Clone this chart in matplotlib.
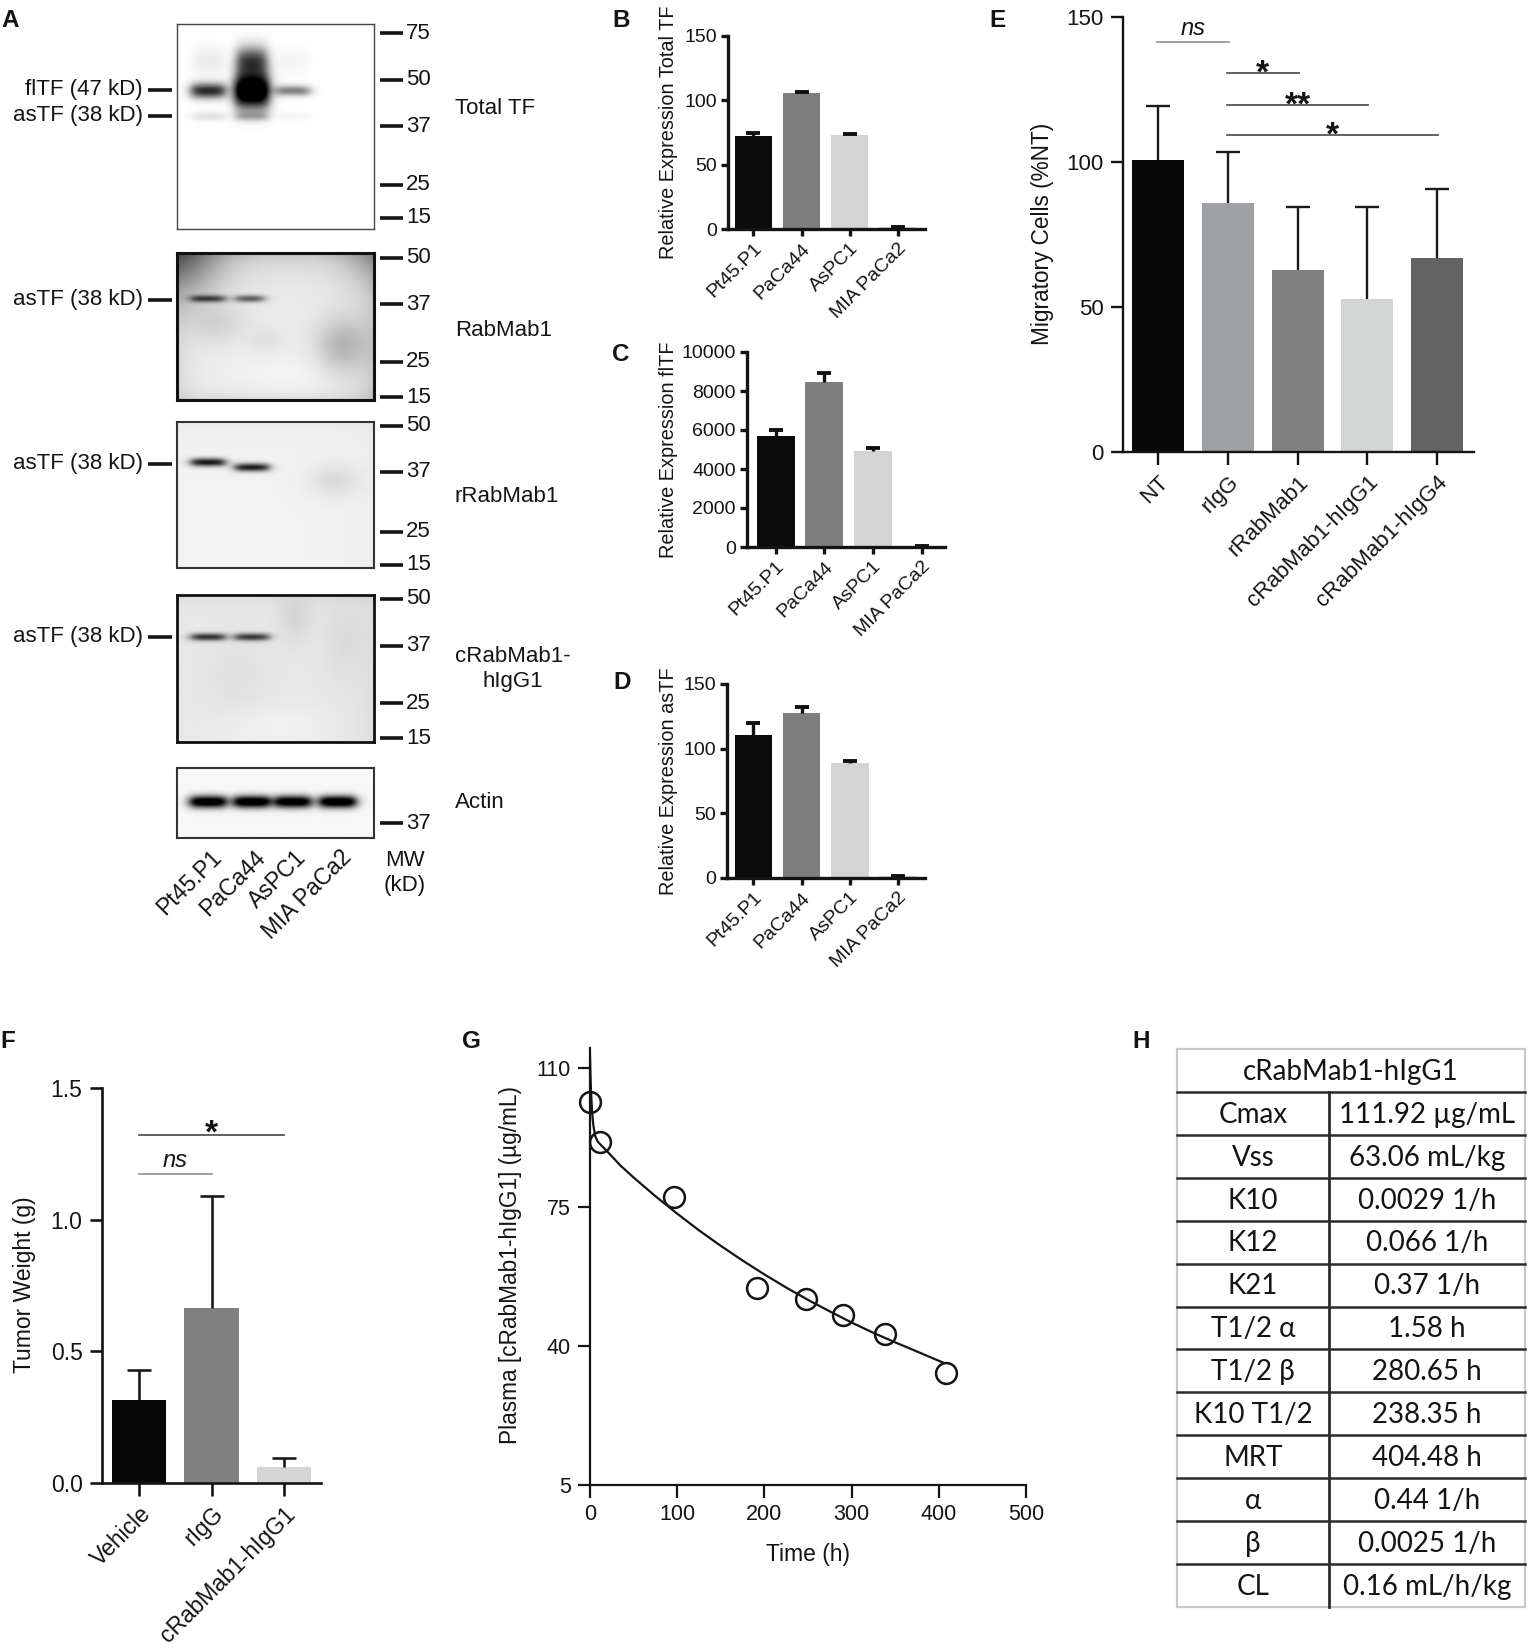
import numpy as np
import matplotlib
matplotlib.use('Agg')
import matplotlib.pyplot as plt
from matplotlib.lines import Line2D

plt.rcParams['font.family'] = ['Liberation Sans', 'DejaVu Sans']
plt.rcParams['text.color'] = '#141414'
plt.rcParams['axes.edgecolor'] = '#141414'
plt.rcParams['xtick.color'] = '#141414'
plt.rcParams['ytick.color'] = '#141414'

# ---------------- data ----------------
lanes = ['Pt45.P1', 'PaCa44', 'AsPC1', 'MIA PaCa2']
total_fl_band = [0.85, 1.0, 0.5, 0.0]
total_upper_smear = [0.08, 0.75, 0.04, 0.0]
total_as_band = [0.12, 0.25, 0.04, 0.0]
rab_as_band = [0.6, 0.55, 0.0, 0.0]
rrab_as_band = [0.88, 0.85, 0.0, 0.0]
crab_as_band = [0.72, 0.7, 0.0, 0.0]
actin_band = [0.97, 0.98, 0.95, 0.99]
mw_total = ['75', '50', '37', '25', '15']
mw_tf = ['50', '37', '25', '15']
mw_actin = ['37']

b_vals = [72.5, 105.5, 72.8, 1.5]
b_errs = [2.5, 0.9, 1.2, 0.3]
c_vals = [5690, 8450, 4940, 60]
c_errs = [335, 480, 120, 10]
d_vals = [110.6, 127.9, 88.8, 1.2]
d_errs = [9.0, 4.1, 2.0, 0.3]

e_cats = ['NT', 'rIgG', 'rRabMab1', 'cRabMab1-hIgG1', 'cRabMab1-hIgG4']
e_vals = [100.7, 85.9, 62.7, 52.8, 66.9]
e_errs = [18.6, 17.6, 21.7, 31.6, 23.8]
e_sig = [(0, 1, 141.4, 'ns'), (1, 2, 130.6, '*'), (1, 3, 119.7, '**'), (1, 4, 109.2, '*')]

f_cats = ['Vehicle', 'rIgG', 'cRabMab1-hIgG1']
f_vals = [0.316, 0.663, 0.060]
f_errs = [0.115, 0.426, 0.035]
f_sig = [(0, 2, 1.323, '*'), (0, 1, 1.173, 'ns')]

g_time = [0, 12, 96, 192, 248, 290, 338, 408]
g_conc = [101.4, 91.3, 77.4, 54.7, 51.8, 47.7, 42.9, 33.1]
g_fit_time = [0, 0.5, 1, 2, 3, 4, 6, 9, 12, 20, 35, 50, 75, 100, 125, 150,
              175, 200, 225, 250, 275, 300, 325, 350, 375, 405]
g_fit_conc = [113.0, 108.5, 105.0, 100.4, 97.3, 95.3, 92.8, 91.4, 90.7, 88.9,
              85.4, 82.4, 77.7, 73.3, 69.1, 65.2, 61.5, 58.0, 54.7, 51.6,
              48.7, 45.9, 43.3, 40.9, 38.6, 35.8]

h_header = 'cRabMab1-hIgG1'
h_params = ['Cmax', 'Vss', 'K10', 'K12', 'K21', 'T1/2 α', 'T1/2 β',
            'K10 T1/2', 'MRT', 'α', 'β', 'CL']
h_values = ['111.92 µg/mL', '63.06 mL/kg', '0.0029 1/h', '0.066 1/h',
            '0.37 1/h', '1.58 h', '280.65 h', '238.35 h', '404.48 h',
            '0.44 1/h', '0.0025 1/h', '0.16 mL/h/kg']

# ---------------- figure helpers ----------------
W, H = 1529, 1650
DPI = 100
fig = plt.figure(figsize=(W / DPI, H / DPI), dpi=DPI, facecolor='white')


def rect(l, t, r, b):
    return [l / W, 1 - b / H, (r - l) / W, (b - t) / H]


def fline(x0, y0, x1, y1, **kw):
    fig.add_artist(Line2D([x0 / W, x1 / W], [1 - y0 / H, 1 - y1 / H],
                          transform=fig.transFigure, **kw))


def ftext(x, y, s, **kw):
    fig.text(x / W, 1 - y / H, s, **kw)


def letter(x, y, s):
    ftext(x, y, s, fontsize=17.5, fontweight='bold', ha='left', va='top')


def up_errorbar(ax, x, vals, errs, **kw):
    cont = ax.errorbar(x, vals, yerr=[np.zeros(len(vals)), errs], fmt='none', **kw)
    caps = cont[1]
    if len(caps) == 2:
        caps[0].set_visible(False)
    return cont


# ---------------- Panel A: blots ----------------
NY, NX = 260, 260
yy, xx = np.mgrid[0:1:NY * 1j, 0:1:NX * 1j]
lane_x = [0.157, 0.38, 0.589, 0.817]


def band(cx, cy, hw, sy, amp, soft=0.016):
    hx = 1.0 / (1.0 + np.exp((np.abs(xx - cx) - hw) / soft))
    return amp * hx * np.exp(-0.5 * ((yy - cy) / sy) ** 2)


def blob(cx, cy, sx, sy, amp):
    return amp * np.exp(-0.5 * (((xx - cx) / sx) ** 2 + ((yy - cy) / sy) ** 2))


BL, BR = 177, 374
blots = []

# blot 1: total TF
img = np.zeros_like(xx)
spread = [0.026, 0.06, 0.018, 0.02]
for i, lx in enumerate(lane_x):
    img += band(lx, 0.325, 0.085, spread[i], total_fl_band[i] * (1.4 if i == 1 else 1.0))
    img += band(lx, 0.18, 0.075, 0.05, total_upper_smear[i])
    img += band(lx, 0.45, 0.08, 0.016, total_as_band[i])
blots.append(dict(top=24, bot=229, img=img, mw=mw_total,
                  mwf=[0.044, 0.273, 0.498, 0.785, 0.946],
                  name='Total TF', namey=109,
                  left=[('flTF (47 kD)', 90), ('asTF (38 kD)', 116)],
                  lw=1.0, ec='#444444'))

# blot 2: RabMab1
img = (0.08 + blob(0.0, 0.0, 0.16, 0.22, 0.42) + 0.16 * np.exp(-yy / 0.09)
       + 0.14 * np.exp(-(1 - xx) / 0.08) + 0.07 * np.exp(-(1 - yy) / 0.06)
       + 0.08 * np.exp(-xx / 0.06) + blob(0.84, 0.63, 0.09, 0.13, 0.2)
       + blob(0.2, 0.48, 0.1, 0.09, 0.08) + blob(0.45, 0.6, 0.06, 0.06, 0.04)
       + blob(1.0, 0.0, 0.12, 0.15, 0.15) + blob(0.55, 0.85, 0.25, 0.12, -0.04))
for i, lx in enumerate(lane_x):
    img += band(lx + (-0.01 if i == 1 else 0.0), 0.31, 0.085 if i == 0 else 0.07,
                0.017, rab_as_band[i])
blots.append(dict(top=253, bot=400, img=img, mw=mw_tf,
                  mwf=[0.034, 0.347, 0.741, 0.98], name='RabMab1', namey=331,
                  left=[('asTF (38 kD)', 300)], lw=2.2, ec='#111111'))

# blot 3: rRabMab1
img = (0.05 + 0.03 * np.exp(-yy / 0.1) + blob(0.8, 0.4, 0.09, 0.08, 0.09)
       + 0.02 * np.exp(-(1 - xx) / 0.1))
for i, lx in enumerate(lane_x):
    img += band(lx, [0.275, 0.31, 0.3, 0.3][i], 0.085, 0.02, rrab_as_band[i])
blots.append(dict(top=422, bot=568, img=img, mw=mw_tf,
                  mwf=[0.027, 0.34, 0.751, 0.979], name='rRabMab1', namey=497,
                  left=[('asTF (38 kD)', 464)], lw=1.5, ec='#333333'))

# blot 4: cRabMab1-hIgG1
img = (0.09 + blob(0.6, 0.15, 0.06, 0.12, 0.07) + blob(0.3, 0.55, 0.12, 0.2, 0.03)
       + 0.05 * np.exp(-yy / 0.05) + 0.04 * np.exp(-(1 - xx) / 0.1)
       + blob(0.85, 0.3, 0.08, 0.2, 0.04) + blob(0.5, 0.9, 0.2, 0.1, -0.04))
for i, lx in enumerate(lane_x):
    img += band(lx, 0.285, 0.085, 0.018, crab_as_band[i])
blots.append(dict(top=595, bot=742, img=img, mw=mw_tf,
                  mwf=[0.027, 0.345, 0.735, 0.973], name='cRabMab1-\nhIgG1',
                  namey=669, left=[('asTF (38 kD)', 637)], lw=2.0, ec='#111111'))

# actin
img = np.full_like(xx, 0.03)
for i, lx in enumerate(lane_x):
    img += band(lx, 0.49, 0.092, 0.062, actin_band[i] * 1.2, soft=0.016)
blots.append(dict(top=768, bot=838, img=img, mw=mw_actin, mwf=[0.79],
                  name='Actin', namey=803, left=[], lw=1.5, ec='#333333'))

for bl in blots:
    ax = fig.add_axes(rect(BL, bl['top'], BR, bl['bot']))
    ax.imshow(np.clip(bl['img'], 0, 1), cmap='gray_r', vmin=0, vmax=1,
              extent=(0, 1, 1, 0), aspect='auto', interpolation='bilinear')
    ax.set_xlim(0, 1)
    ax.set_ylim(1, 0)
    ax.set_xticks([])
    ax.set_yticks([])
    for s in ax.spines.values():
        s.set_linewidth(bl['lw'])
        s.set_edgecolor(bl['ec'])
    h = bl['bot'] - bl['top']
    for lab, f in zip(bl['mw'], bl['mwf']):
        y = bl['top'] + f * h
        fline(380, y, 403, y, color='#141414', lw=2.6, solid_capstyle='butt')
        ftext(406, y, lab, fontsize=16, ha='left', va='center')
    ftext(455, bl['namey'], bl['name'], fontsize=16, ha='left', va='center',
          multialignment='center', linespacing=1.25)
    for lab, y in bl['left']:
        ftext(143, y, lab, fontsize=16, ha='right', va='center')
        fline(148, y, 172, y, color='#141414', lw=2.6, solid_capstyle='butt')

for i, lab in enumerate(lanes):
    cx = BL + lane_x[i] * (BR - BL)
    ftext(cx + 10, 854, lab, fontsize=16.5, rotation=45, ha='right', va='center',
          rotation_mode='anchor')
ftext(405, 873, 'MW\n(kD)', fontsize=16, ha='center', va='center',
      multialignment='center', linespacing=1.3)
letter(1, 9, 'A')

# ---------------- Panels B-D ----------------
expr_colors = ['#0b0b0b', '#7e7e7e', '#d4d4d4', '#dadada']


def style_axes(ax, lw, tick_len, labelsize, pad=3):
    for s in ['top', 'right']:
        ax.spines[s].set_visible(False)
    for s in ['left', 'bottom']:
        ax.spines[s].set_linewidth(lw)
    ax.tick_params(direction='out', length=tick_len, width=lw,
                   labelsize=labelsize, pad=pad)


def expr_panel(l, t, r, b, vals, errs, ylim, yticks, ylabel, xlim):
    ax = fig.add_axes(rect(l, t, r, b))
    x = np.arange(len(lanes))
    ax.bar(x, vals, width=0.78, color=expr_colors, zorder=2)
    up_errorbar(ax, x, vals, errs, ecolor='#111111', elinewidth=2.4, capsize=5,
                capthick=2.8, zorder=3)
    ax.set_xlim(*xlim)
    ax.set_ylim(*ylim)
    ax.set_yticks(yticks)
    ax.set_xticks(x)
    ax.set_xticklabels(lanes, rotation=45, ha='right', rotation_mode='anchor')
    style_axes(ax, 2.4, 5, 14)
    ftext(668, (t + b) / 2, ylabel, rotation=90, ha='center', va='center',
          fontsize=14.3)
    return ax


expr_panel(728, 36, 925, 229, b_vals, b_errs, (0, 150), [0, 50, 100, 150],
           'Relative Expression Total TF', (-0.53, 3.57))
expr_panel(747, 352, 945, 547, c_vals, c_errs, (0, 10000),
           [0, 2000, 4000, 6000, 8000, 10000], 'Relative Expression flTF',
           (-0.59, 3.48))
expr_panel(727, 684, 925, 878, d_vals, d_errs, (0, 150), [0, 50, 100, 150],
           'Relative Expression asTF', (-0.55, 3.56))
letter(612, 9, 'B')
letter(612, 343, 'C')
letter(613, 671, 'D')

# ---------------- Panel E ----------------
e_colors = ['#080808', '#9fa0a4', '#808080', '#d3d4d4', '#636363']
ax = fig.add_axes(rect(1123, 17, 1474, 452))
x = np.arange(len(e_cats))
ax.bar(x, e_vals, width=0.745, color=e_colors, zorder=2)
up_errorbar(ax, x, e_vals, e_errs, ecolor='#1a1a1a', elinewidth=1.7,
            capsize=8.5, capthick=1.7, zorder=3)
ax.set_xlim(-0.507, 4.53)
ax.set_ylim(0, 150)
ax.set_yticks([0, 50, 100, 150])
ax.set_xticks(x)
ax.set_xticklabels(e_cats, rotation=45, ha='right', rotation_mode='anchor')
style_axes(ax, 1.7, 9, 16, pad=5)
for i0, i1, yv, s in e_sig:
    col = '#9a9a9a' if s == 'ns' else '#555555'
    ax.plot([i0 - 0.015, i1 + 0.015], [yv, yv], color=col, lw=1.3,
            clip_on=False, zorder=4)
    if s == 'ns':
        ax.annotate(s, ((i0 + i1) / 2, yv), xytext=(0, 5), textcoords='offset points',
                    ha='center', va='baseline', fontsize=17, style='italic')
    else:
        ax.annotate(s, ((i0 + i1) / 2, yv), xytext=(0, -7), textcoords='offset points',
                    ha='center', va='baseline', fontsize=24, fontweight='bold')
ftext(1042, 234, 'Migratory Cells (%NT)', rotation=90, ha='center', va='center',
      fontsize=16.3)
letter(989, 9, 'E')

# ---------------- Panel F ----------------
f_colors = ['#080808', '#808080', '#d6d6d6']
ax = fig.add_axes(rect(102, 1088, 321, 1483))
x = np.arange(len(f_cats))
ax.bar(x, f_vals, width=0.75, color=f_colors, zorder=2)
up_errorbar(ax, x, f_vals, f_errs, ecolor='#1a1a1a', elinewidth=1.9,
            capsize=8.5, capthick=1.9, zorder=3)
ax.set_xlim(-0.51, 2.51)
ax.set_ylim(0, 1.5)
ax.set_yticks([0, 0.5, 1.0, 1.5])
ax.set_yticklabels(['0.0', '0.5', '1.0', '1.5'])
ax.set_xticks(x)
ax.set_xticklabels(f_cats, rotation=45, ha='right', rotation_mode='anchor')
style_axes(ax, 1.9, 9, 16.5, pad=5)
for i0, i1, yv, s in f_sig:
    col = '#9a9a9a' if s == 'ns' else '#555555'
    ax.plot([i0, i1], [yv, yv], color=col, lw=1.3, clip_on=False, zorder=4)
    if s == 'ns':
        ax.annotate(s, ((i0 + i1) / 2, yv), xytext=(0, 5), textcoords='offset points',
                    ha='center', va='baseline', fontsize=17, style='italic')
    else:
        ax.annotate(s, ((i0 + i1) / 2, yv), xytext=(0, -6), textcoords='offset points',
                    ha='center', va='baseline', fontsize=24, fontweight='bold')
ftext(25, 1285, 'Tumor Weight (g)', rotation=90, ha='center', va='center',
      fontsize=16.5)
letter(0, 1030, 'F')

# ---------------- Panel G ----------------
ax = fig.add_axes(rect(590, 1048, 1026, 1485))
ax.plot(g_fit_time, g_fit_conc, color='#141414', lw=1.6, zorder=2)
ax.plot(g_time, g_conc, 'o', ms=15, mfc='none', mec='#141414', mew=1.8,
        clip_on=False, zorder=3)
ax.set_xlim(0, 500)
ax.set_ylim(5, 115)
ax.set_yticks([5, 40, 75, 110])
ax.set_xticks([0, 100, 200, 300, 400, 500])
style_axes(ax, 1.6, 9, 15.5, pad=5)
ftext(511, 1265, 'Plasma [cRabMab1-hIgG1] (µg/mL)', rotation=90, ha='center',
      va='center', fontsize=16.3)
ftext(808, 1555, 'Time (h)', ha='center', va='center', fontsize=16.5)
letter(462, 1030, 'G')

# ---------------- Panel H: table ----------------
TL, TT, TR, TB = 1177, 1049, 1525, 1607
axt = fig.add_axes(rect(TL, TT, TR, TB))
axt.set_xlim(0, TR - TL)
axt.set_ylim(13, 0)
axt.axis('off')
div = 1329 - TL
tw = TR - TL
light = '#c9c9c9'
dark = '#2b2b2b'
axt.plot([0, tw], [0, 0], color=light, lw=1.6, clip_on=False)
axt.plot([0, tw], [13, 13], color=light, lw=1.6, clip_on=False)
axt.plot([0, 0], [0, 13], color=light, lw=1.6, clip_on=False)
axt.plot([tw, tw], [0, 13], color=light, lw=1.6, clip_on=False)
for k in range(1, 13):
    axt.plot([0, tw], [k, k], color=dark, lw=1.8, clip_on=False)
axt.plot([div, div], [1, 13], color=dark, lw=2.0, clip_on=False)
tfont = ['Lato', 'Open Sans', 'DejaVu Sans']
axt.text(tw / 2, 0.53, h_header, ha='center', va='center', fontsize=20,
         family=tfont)
for k, (p, v) in enumerate(zip(h_params, h_values)):
    axt.text(div / 2, k + 1.53, p, ha='center', va='center', fontsize=20,
             family=tfont)
    axt.text((div + tw) / 2, k + 1.53, v, ha='center', va='center', fontsize=20,
             family=tfont)
letter(1132, 1030, 'H')

fig.savefig('out.png', dpi=DPI, facecolor='white')
